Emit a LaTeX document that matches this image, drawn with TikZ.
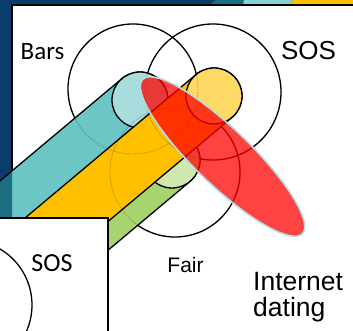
\documentclass[tikz,border=0pt]{standalone}
\usepackage{fontspec}
\setmainfont{Liberation Sans}
\newfontfamily\calib{Carlito}
\usetikzlibrary{calc}
\definecolor{navy}{HTML}{0B3C6A}
\definecolor{tealdark}{HTML}{1B6E82}
\definecolor{tealbody}{HTML}{6CC6C5}
\definecolor{tealcap}{HTML}{A9DCDC}
\definecolor{yelbody}{HTML}{FFC000}
\definecolor{yelcap}{HTML}{FFD966}
\definecolor{grnbody}{HTML}{A8D46F}
\definecolor{grncap}{HTML}{CFE8B0}
\definecolor{rimblue}{HTML}{B4DDE0}
\tikzset{
  venn/.style={draw=black, line width=1.3pt},
  ghost/.style={draw=black, line width=0.9pt, opacity=0.2, dash pattern=on 2pt off 1pt},
  tubeline/.style={draw=black, line width=1.3pt},
  lbl/.style={inner sep=0pt, text=black}
}
\begin{document}
\begin{tikzpicture}[x=1pt,y=-1pt]
\useasboundingbox (0,0) rectangle (353,331);
\fill[navy] (0,0) rectangle (353,331);
% top strip
\fill[tealdark] (210,5) -- (216,0) -- (244,0) -- (243,5) -- cycle;
\fill[tealbody!80!white] (243,5) -- (244,0) -- (293,0) -- (288,5) -- cycle;
\fill[yelbody] (288,5) -- (293,0) -- (353,0) -- (353,5) -- cycle;
% main panel
\fill[white] (12,5) rectangle (360,340);
\draw[line width=1.5pt] (12,340) -- (12,5) -- (360,5);
% venn circles
\coordinate (cb) at (133,89);
\coordinate (cs) at (213,92);
\coordinate (cf) at (175,172);
\path[venn] (cb) circle[radius=65];
\path[venn] (cs) circle[radius=68];
\path[venn] (cf) circle[radius=65];
% green tube
\coordinate (cg) at (172,160);
\filldraw[fill=grnbody, tubeline] (cg) ++(-130:28) arc[start angle=-130,end angle=50,radius=28] -- ++(140:320) -- ++(-130:56) -- cycle;
\filldraw[fill=grncap, tubeline] (cg) circle[radius=28];
% teal tube
\coordinate (ct) at (140,100);
\fill[tealbody] (ct) ++(-130:28) arc[start angle=-130,end angle=50,radius=28] -- ++(140:320) -- ++(-130:56) -- cycle;
\begin{scope}
\clip (0,0) rectangle (12,218);
\fill[tealdark] (ct) ++(-130:28) arc[start angle=-130,end angle=50,radius=28] -- ++(140:320) -- ++(-130:56) -- cycle;
\end{scope}
\draw[tubeline] (ct) ++(-130:28) arc[start angle=-130,end angle=50,radius=28] -- ++(140:320) -- ++(-130:56) -- cycle;
\filldraw[fill=tealcap, tubeline] (ct) circle[radius=28];
% yellow tube
\coordinate (cy) at (214,96);
\filldraw[fill=yelbody, tubeline] (cy) ++(-130:28) arc[start angle=-130,end angle=50,radius=28] -- ++(140:320) -- ++(-130:56) -- cycle;
\filldraw[fill=yelcap, tubeline] (cy) circle[radius=28];
% venn circles seen through tubes
\path[ghost] (cb) circle[radius=65];
\path[ghost] (cs) circle[radius=68];
\path[ghost] (cf) circle[radius=65];
% red ellipse
\coordinate (ce) at (222.5,156.5);
\path[rotate around={-44:(ce)}, fill=red, fill opacity=0.74, draw=rimblue, line width=1.6pt] (ce) ellipse[x radius=111, y radius=28];
% bottom-left panel
\fill[white] (0,218) rectangle (108,340);
\begin{scope}
\clip (0,218) rectangle (108,340);
\draw[line width=1.3pt] (-33,305) circle[radius=65];
\end{scope}
\draw[line width=1.5pt] (-5,218) -- (108,218) -- (108,340);
% labels
\node[lbl, font=\calib\fontsize{25}{25}\selectfont] (bars) at (42.5,51.5) {Bars};
\node[lbl, font=\fontsize{26}{26}\selectfont] (sos1) at (308.5,50.5) {SOS};
\node[lbl, font=\fontsize{21}{21}\selectfont] (fair) at (185.5,264.5) {Fair};
\node[lbl, font=\calib\fontsize{26}{26}\selectfont] (sos2) at (52,263.5) {SOS};
\node[lbl, font=\fontsize{26.5}{26.5}\selectfont, anchor=base west] (inet) at (253,290) {Internet};
\node[lbl, font=\fontsize{26.5}{26.5}\selectfont, anchor=base west] (dating) at (253,316.7) {dating};
\end{tikzpicture}
\end{document}
